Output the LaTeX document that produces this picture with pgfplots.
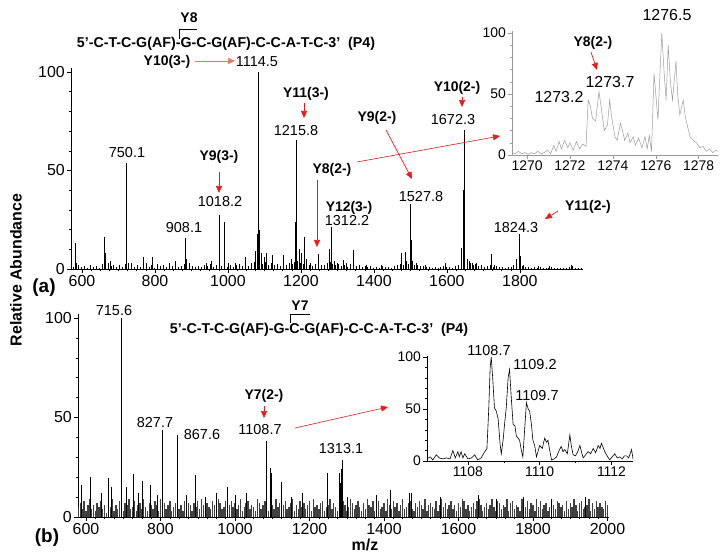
\documentclass[border=0pt]{standalone}
\usepackage{fontspec}
\setmainfont{Liberation Sans}
\usepackage{pgfplots}
\pgfplotsset{compat=1.18}
\usetikzlibrary{arrows.meta}

\definecolor{arrowred}{RGB}{235,25,25}
\definecolor{salmon}{RGB}{240,115,95}
\definecolor{insetgray}{RGB}{155,155,155}

\pgfplotsset{
  spec/.style={
    scale only axis, axis lines=left, axis line style={-},
    tick align=outside, major tick length=4bp, minor tick length=2.2bp,
    tick style={black, line width=0.5bp},
    ymin=0, ytick={0,50,100}, minor y tick num=4,
    enlargelimits=false,
    /pgf/number format/assume math mode=true,
    /pgf/number format/1000 sep={},
    tick label style={font=\fontsize{16}{18}\selectfont, inner sep=2bp},
  },
  sticks/.style={ycomb, no marks, black, line width=0.5bp},
}

\begin{document}
\begin{tikzpicture}[x=1bp,y=1bp,
  red arrow/.style={arrowred, line width=0.7bp, -{Triangle[length=7bp,width=6bp]}},
  lb/.style={font=\bfseries\fontsize{14}{16}\selectfont},
  pk/.style={font=\fontsize{14.5}{16}\selectfont}]
\path[use as bounding box] (0,0) rectangle (728,-560);

% ---------- (a) full spectrum
\begin{axis}[spec, at={(71bp,-269bp)}, anchor=south west, width=512bp, height=201bp,
  xmin=570, xmax=1973, ymax=102, xtick={600,800,...,1800}, minor x tick num=7]
% baseline
\addplot[sticks, line width=0.45bp] coordinates {
(575,1.2) (583,0.6) (591,1.8) (599,0.8) (607,1.4) (615,0.5) (623,2.1) (631,0.9) (639,1.5) (647,0.7)
(655,2.4) (663,1.1) (671,3.0) (679,1.3) (687,2.2) (695,0.8) (703,1.9) (711,1.0) (719,2.6) (727,1.7)
(735,3.2) (743,1.2) (751,2.0) (759,0.9) (767,1.6) (775,2.8) (783,1.1) (791,1.9) (799,0.7) (807,2.5)
(815,1.3) (823,1.8) (831,0.9) (839,2.2) (847,1.4) (855,2.9) (863,1.0) (871,1.7) (879,2.3) (887,1.2)
(895,3.1) (903,1.5) (911,0.8) (919,1.6) (927,0.9) (935,2.0) (943,1.3) (951,2.7) (959,1.1) (967,1.9)
(975,2.4) (983,1.6) (991,3.0) (999,1.2) (1007,2.1) (1015,1.0) (1023,1.8) (1031,2.6) (1039,1.4) (1047,2.2)
(1055,1.7) (1063,2.9) (1071,3.5) (1079,4.2) (1087,3.8) (1095,2.7) (1103,3.4) (1111,2.1) (1119,2.8) (1127,1.9)
(1135,2.5) (1143,1.6) (1151,2.3) (1159,1.8) (1167,3.0) (1175,2.4) (1183,3.6) (1191,4.0) (1199,3.3) (1207,2.6)
(1215,3.1) (1223,2.0) (1231,1.7) (1239,2.4) (1247,1.5) (1255,2.2) (1263,1.8) (1271,2.9) (1279,3.4) (1287,2.7)
(1295,1.9) (1303,2.3) (1311,1.4) (1319,2.0) (1327,1.2) (1335,2.6) (1343,1.9) (1351,1.3) (1359,1.8) (1367,0.9)
(1375,1.5) (1383,0.8) (1391,1.3) (1399,0.7) (1407,1.2) (1415,0.6) (1423,1.4) (1431,0.8) (1439,1.1) (1447,0.6)
(1455,1.5) (1463,1.9) (1471,2.6) (1479,2.2) (1487,3.0) (1495,2.4) (1503,2.8) (1511,1.9) (1519,2.1) (1527,1.3)
(1535,1.6) (1543,0.9) (1551,1.2) (1559,0.7) (1567,1.0) (1575,0.6) (1583,1.1) (1591,1.4) (1599,0.8) (1607,1.0)
(1615,0.6) (1623,1.3) (1631,1.8) (1639,2.6) (1647,3.1) (1655,2.4) (1663,2.8) (1671,2.0) (1679,2.3) (1687,1.5)
(1695,1.8) (1703,1.2) (1711,1.6) (1719,2.0) (1727,1.1) (1735,1.4) (1743,0.8) (1751,1.0) (1759,0.6) (1767,0.9)
(1775,1.2) (1783,1.8) (1791,2.4) (1799,2.0) (1807,1.5) (1815,0.9) (1823,1.1) (1831,0.6) (1839,0.8) (1847,0.5)
(1855,0.9) (1863,0.4) (1871,0.7) (1879,0.5) (1887,0.8) (1895,0.4) (1903,0.6) (1911,0.3) (1919,0.7) (1927,0.5)
(1935,1.0) (1943,1.3) (1951,0.6) (1959,0.4) (1967,0.5)};
% peaks
\addplot[sticks] coordinates {
(581,13) (584,3) (661,16.4) (663,8) (677,4) (721,53.8) (722.5,32) (726,3) (768,6) (793,6)
(840,3) (855,4) (882,15.7) (886,5) (940,3) (955,4) (976,27.4) (977,13) (990,24) (1000,3)
(1020,3) (1048,6) (1075,9) (1079,18) (1083,100) (1085,20) (1090,8) (1100,6) (1106,8) (1122,7)
(1152,7) (1173,5) (1185,24) (1186,65.5) (1188,35) (1195,10) (1200,8) (1209,16.4) (1215,5) (1225,3)
(1248,7.6) (1278,10) (1282,21.5) (1284,19) (1290,4) (1300,3) (1316,4.6) (1325,3) (1343,9.6) (1380,2)
(1420,2) (1474,8) (1485,8.5) (1490,4) (1500,33) (1501,14.7) (1505,4) (1515,3) (1540,2) (1595,3)
(1640,10.6) (1646,40) (1647,70.5) (1655,5) (1660,4) (1670,3) (1680,3) (1722,7.6) (1730,2) (1791,5)
(1798,17.8) (1800,6.5) (1810,2) (1850,1.5) (1880,1.5) (1942,2)};
\end{axis}

% ---------- (a) zoom on Y8(2-)
\begin{axis}[spec, at={(512bp,-155bp)}, anchor=south west, width=206bp, height=124.4bp,
  xmin=1269.3, xmax=1278.9, ymax=102, xtick={1270,1272,...,1278}, minor x tick num=1,
  axis line style={insetgray}, tick style={insetgray},
  tick label style={font=\fontsize{14}{16}\selectfont}]
\addplot[insetgray, line width=0.5bp] coordinates {
(1269.3,2) (1269.45,1) (1269.6,3) (1269.75,1) (1269.9,2) (1270.05,0.5) (1270.2,2) (1270.35,1)
(1270.5,3) (1270.65,1) (1270.8,2) (1270.95,4) (1271.1,1) (1271.25,8) (1271.35,3) (1271.5,11)
(1271.6,5) (1271.75,12) (1271.9,6) (1272.0,10) (1272.15,4) (1272.3,11) (1272.45,5) (1272.6,9)
(1272.75,7) (1272.85,45) (1272.95,40) (1273.05,30) (1273.2,28) (1273.35,52) (1273.45,40) (1273.6,20)
(1273.75,25) (1273.85,45) (1273.95,30) (1274.1,15) (1274.2,12) (1274.35,26) (1274.45,20) (1274.55,12)
(1274.7,18) (1274.8,10) (1274.95,15) (1275.05,8) (1275.2,14) (1275.35,6) (1275.5,15) (1275.6,5)
(1275.7,16) (1275.8,3) (1275.92,67) (1276.0,50) (1276.1,29) (1276.28,100) (1276.38,70) (1276.48,45)
(1276.58,90) (1276.68,60) (1276.78,45) (1276.94,77) (1277.02,50) (1277.12,33) (1277.28,45) (1277.38,31)
(1277.5,22) (1277.6,15) (1277.75,12) (1277.9,10) (1278.05,6) (1278.2,7) (1278.35,3) (1278.5,5)
(1278.65,2) (1278.8,4) (1278.9,3)};
\end{axis}

% ---------- (b) full spectrum
\begin{axis}[spec, at={(78bp,-517bp)}, anchor=south west, width=530.6bp, height=203bp,
  xmin=578.5, xmax=2003, ymax=102, xtick={600,800,...,2000}, minor x tick num=7]
% noise band
\addplot[sticks, line width=1.4bp, black!75] coordinates {
(580,5) (585,7) (590,4) (595,8) (600,3) (605,6) (610,9) (615,4) (620,6) (625,3) (630,7) (635,5) (640,8) (645,4) (650,6) (655,2) (660,7) (665,5) (670,9) (675,3)
(680,6) (685,4) (690,8) (695,5) (700,3) (705,7) (710,6) (715,9) (720,4) (725,5) (730,8) (735,3) (740,6) (745,7) (750,4) (755,9) (760,5) (765,3) (770,7) (775,6)
(780,4) (785,8) (790,6) (795,3) (800,9) (805,5) (810,7) (815,4) (820,6) (825,8) (830,3) (835,5) (840,7) (845,9) (850,4) (855,6) (860,3) (865,8) (870,5) (875,7)
(880,6) (885,3) (890,7) (895,5) (900,8) (905,4) (910,9) (915,6) (920,3) (925,7) (930,5) (935,4) (940,8) (945,6) (950,3) (955,9) (960,7) (965,4) (970,5) (975,8)
(980,3) (985,6) (990,8) (995,5) (1000,7) (1005,4) (1010,6) (1015,9) (1020,3) (1025,5) (1030,7) (1035,8) (1040,4) (1045,6) (1050,5) (1055,3) (1060,9) (1065,7) (1070,4) (1075,6)
(1080,8) (1085,5) (1090,3) (1095,7) (1100,6) (1105,4) (1110,9) (1115,5) (1120,7) (1125,3) (1130,6) (1135,8) (1140,4) (1145,5) (1150,7) (1155,9) (1160,3) (1165,6) (1170,4) (1175,8)
(1180,5) (1185,7) (1190,4) (1195,6) (1200,8) (1205,3) (1210,9) (1215,5) (1220,6) (1225,4) (1230,7) (1235,8) (1240,3) (1245,5) (1250,6) (1255,9) (1260,4) (1265,7) (1270,5) (1275,3)
(1280,7) (1285,4) (1290,8) (1295,6) (1300,3) (1305,5) (1310,9) (1315,7) (1320,4) (1325,6) (1330,8) (1335,5) (1340,3) (1345,7) (1350,4) (1355,9) (1360,6) (1365,5) (1370,8) (1375,3)
(1380,6) (1385,8) (1390,4) (1395,5) (1400,7) (1405,3) (1410,9) (1415,6) (1420,4) (1425,8) (1430,5) (1435,7) (1440,3) (1445,6) (1450,9) (1455,4) (1460,5) (1465,7) (1470,8) (1475,4)
(1480,3) (1485,7) (1490,5) (1495,8) (1500,6) (1505,4) (1510,9) (1515,3) (1520,6) (1525,7) (1530,5) (1535,4) (1540,8) (1545,3) (1550,6) (1555,9) (1560,5) (1565,7) (1570,4) (1575,6)
(1580,8) (1585,4) (1590,6) (1595,3) (1600,7) (1605,5) (1610,9) (1615,8) (1620,4) (1625,6) (1630,3) (1635,5) (1640,7) (1645,4) (1650,8) (1655,9) (1660,6) (1665,3) (1670,5) (1675,7)
(1680,4) (1685,6) (1690,9) (1695,5) (1700,3) (1705,8) (1710,7) (1715,4) (1720,6) (1725,5) (1730,9) (1735,3) (1740,7) (1745,8) (1750,4) (1755,6) (1760,5) (1765,3) (1770,9) (1775,7)
(1780,5) (1785,8) (1790,4) (1795,7) (1800,6) (1805,3) (1810,9) (1815,5) (1820,8) (1825,4) (1830,6) (1835,7) (1840,3) (1845,5) (1850,9) (1855,6) (1860,4) (1865,8) (1870,7) (1875,5)
(1880,6) (1885,3) (1890,8) (1895,4) (1900,7) (1905,5) (1910,9) (1915,6) (1920,3) (1925,7) (1930,8) (1935,4) (1940,5) (1945,6) (1950,9) (1955,3) (1960,7) (1965,4) (1970,8) (1975,5)
(1980,7) (1985,5) (1990,4) (1995,8) (2000,6)};
% peaks
\addplot[sticks] coordinates {
(588,16) (611,20) (640,12) (660,19.6) (667,15) (694,100) (709,15) (727,21.6) (740,12) (752,18)
(772,16) (790,11) (805,43.7) (806,17) (845,41) (870,11) (893,21) (920,10) (950,12) (980,15)
(1000,11) (1030,12) (1083,38) (1085,26) (1094,24.5) (1096,22) (1125,17.7) (1150,10) (1180,12) (1248,22)
(1279,22) (1282,17) (1285,24) (1288,28.6) (1300,10) (1380,11) (1418,13.5) (1468,12) (1474,12) (1550,10)
(1653,11) (1700,9) (1774,10) (1850,9) (1940,10)};
\end{axis}

% ---------- (b) zoom on Y7(2-)
\begin{axis}[spec, at={(427bp,-461bp)}, anchor=south west, width=206bp, height=105bp,
  xmin=1106.86, xmax=1112.6, ymax=101, xtick={1108,1110,1112}, minor x tick num=1,
  tick label style={font=\fontsize{14}{16}\selectfont}]
\addplot[black, line width=0.6bp] coordinates {
(1106.84,2) (1106.95,4) (1107.02,1) (1107.12,6) (1107.2,3) (1107.3,2) (1107.4,3) (1107.5,2)
(1107.58,10) (1107.65,3) (1107.72,9) (1107.76,4) (1107.81,9) (1107.86,3) (1107.91,7) (1108.0,2)
(1108.1,3) (1108.19,6) (1108.27,1) (1108.37,3) (1108.45,8) (1108.53,12) (1108.58,50) (1108.62,90)
(1108.65,100) (1108.69,80) (1108.74,51) (1108.79,48) (1108.84,41) (1108.9,15) (1108.93,7) (1108.98,20)
(1109.02,35) (1109.07,52) (1109.12,80) (1109.16,88) (1109.21,60) (1109.26,35) (1109.31,34) (1109.35,24)
(1109.4,22) (1109.44,20) (1109.49,10) (1109.53,4) (1109.58,30) (1109.63,56) (1109.68,50) (1109.72,48)
(1109.77,35) (1109.81,20) (1109.86,15) (1109.91,4) (1109.96,10) (1110.0,15) (1110.07,12) (1110.14,22)
(1110.19,18) (1110.23,20) (1110.28,10) (1110.33,1) (1110.4,2) (1110.47,4) (1110.54,10) (1110.6,14)
(1110.65,9) (1110.7,11) (1110.77,7) (1110.84,25) (1110.88,15) (1110.93,6) (1111.0,5) (1111.06,9)
(1111.12,15) (1111.17,8) (1111.21,3) (1111.28,6) (1111.35,9) (1111.42,7) (1111.49,12) (1111.56,8)
(1111.63,15) (1111.68,12) (1111.72,17) (1111.77,13) (1111.81,9) (1111.88,5) (1111.95,1) (1112.02,4)
(1112.09,7) (1112.16,3) (1112.23,4) (1112.3,2) (1112.36,5) (1112.42,5) (1112.48,3) (1112.56,11) (1112.6,2)};
\end{axis}

% ---------- annotations, panel (a)
\begin{scope}[every node/.append style={inner sep=0pt}]
\node[lb] at (189,-18) {Y8};
\draw[line width=0.6bp] (179,-39) -- (179,-29) -- (197,-29);
\node[font=\bfseries\fontsize{14.3}{16}\selectfont] at (226,-44) {5'-C-T-C-G(AF)-G-C-G(AF)-C-C-A-T-C-3'\hspace{0.55em}(P4)};
\node[lb] at (167,-62) {Y10(3-)};
\draw[salmon, line width=0.7bp, -{Triangle[length=7bp,width=6bp]}] (195,-61) -- (235,-61);
\node[pk] at (257,-62) {1114.5};
\node[pk] at (127,-153) {750.1};
\node[lb] at (219,-157) {Y9(3-)};
\draw[red arrow] (219,-172) -- (219,-193);
\node[pk] at (220,-202) {1018.2};
\node[pk] at (184,-228) {908.1};
\node[lb] at (306,-94) {Y11(3-)};
\draw[red arrow] (304,-103) -- (304,-118);
\node[pk] at (296,-131) {1215.8};
\node[lb] at (332,-170) {Y8(2-)};
\draw[red arrow] (317,-180) -- (317,-247);
\draw[red arrow, line width=0.6bp] (357,-162) -- (500,-136);
\node[lb] at (349,-208) {Y12(3-)};
\node[pk] at (347,-221) {1312.2};
\node[lb] at (377,-118) {Y9(2-)};
\draw[red arrow] (386,-130) -- (412,-179);
\node[pk] at (421,-197) {1527.8};
\node[lb] at (457,-88) {Y10(2-)};
\draw[red arrow] (462,-97) -- (462,-107);
\node[pk] at (453,-120) {1672.3};
\node[lb] at (588,-207) {Y11(2-)};
\draw[red arrow] (558,-211) -- (545,-219);
\node[pk] at (516,-228) {1824.3};
\node[font=\fontsize{16}{18}\selectfont] at (667,-15) {1276.5};
\node[lb] at (593,-43) {Y8(2-)};
\draw[red arrow] (591,-52) -- (597,-70);
\node[font=\fontsize{16}{18}\selectfont] at (610,-82) {1273.7};
\node[font=\fontsize{16}{18}\selectfont] at (559,-97) {1273.2};
\node[font=\bfseries\fontsize{19}{21}\selectfont] at (44,-288) {(a)};

% ---------- annotations, panel (b)
\node[pk] at (114,-311) {715.6};
\node[lb] at (300,-306) {Y7};
\draw[line width=0.6bp] (290,-323) -- (290,-314) -- (310,-314);
\node[font=\bfseries\fontsize{14.3}{16}\selectfont] at (319,-330) {5'-C-T-C-G(AF)-G-C-G(AF)-C-C-A-T-C-3'\hspace{0.55em}(P4)};
\node[pk] at (155,-423) {827.7};
\node[pk] at (202,-435) {867.6};
\node[lb] at (264,-396) {Y7(2-)};
\draw[red arrow] (264,-406) -- (264,-418);
\node[pk] at (260,-430) {1108.7};
\draw[red arrow, line width=0.6bp] (295,-428) -- (388,-407);
\node[pk] at (341,-449) {1313.1};
\node[pk] at (489,-351) {1108.7};
\node[pk] at (535,-365) {1109.2};
\node[pk] at (537,-396) {1109.7};
\node[font=\bfseries\fontsize{19}{21}\selectfont] at (47,-538) {(b)};
\node[font=\bfseries\fontsize{16}{18}\selectfont] at (365,-545) {m/z};
\node[rotate=90, font=\bfseries\fontsize{16}{18}\selectfont] at (16,-270) {Relative Abundance};
\end{scope}
\end{tikzpicture}
\end{document}
